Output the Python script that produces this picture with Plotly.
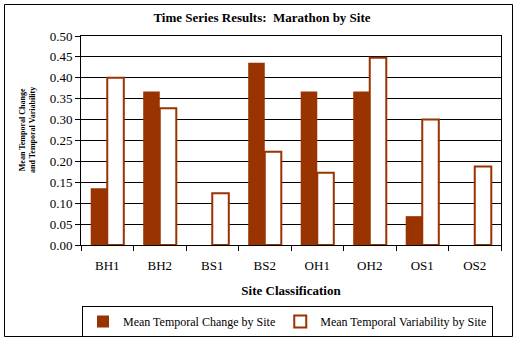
import plotly.graph_objects as go

sites = ["BH1", "BH2", "BS1", "BS2", "OH1", "OH2", "OS1", "OS2"]
mean_change = [0.136, 0.367, 0.0, 0.436, 0.367, 0.367, 0.069, 0.0]
mean_variability = [0.400, 0.327, 0.124, 0.223, 0.173, 0.448, 0.300, 0.188]
y_ticks = [0.0, 0.05, 0.10, 0.15, 0.20, 0.25, 0.30, 0.35, 0.40, 0.45, 0.50]

BROWN = "#993300"
FONT = "Liberation Serif"

fig = go.Figure()
fig.add_trace(go.Bar(
    x=sites, y=mean_change, name="Mean Temporal Change by Site",
    marker=dict(color=BROWN, line=dict(width=0)),
))
fig.add_trace(go.Bar(
    x=sites, y=mean_variability, name="Mean Temporal Variability by Site",
    marker=dict(color="white", line=dict(color=BROWN, width=2)),
))

L, R, T, B = 81, 21, 36, 97
W, H = 522, 342
pw, ph = W - L - R, H - T - B

def px(x):
    return (x - L) / pw

def py(y):
    return (H - B - y) / ph

fig.update_layout(
    width=W, height=H,
    margin=dict(l=L, r=R, t=T, b=B, autoexpand=False),
    paper_bgcolor="white", plot_bgcolor="white",
    font=dict(family=FONT, size=13, color="black"),
    barmode="group", bargap=0.37, bargroupgap=0,
    title=dict(text="<b>Time Series Results:  Marathon by Site</b>",
               x=262 / W, xanchor="center", xref="container",
               y=1 - 17 / H, yanchor="middle", yref="container",
               font=dict(size=13, family=FONT)),
    xaxis=dict(
        automargin=False,
        showline=True, linecolor="black", linewidth=1, mirror=True,
        ticks="outside", ticklen=5, tickcolor="black", tickson="boundaries",
        ticklabelstandoff=8,
        showgrid=False,
        title=dict(text="<b>Site Classification</b>", font=dict(size=13), standoff=14),
    ),
    yaxis=dict(
        automargin=False,
        range=[0, 0.5], tickvals=y_ticks, tickformat=".2f",
        showline=True, linecolor="black", linewidth=1, mirror=True,
        ticks="outside", ticklen=5, tickcolor="black",
        showgrid=True, gridcolor="black", gridwidth=1,
        zeroline=False,
    ),
    showlegend=True,
    legend=dict(
        orientation="h", x=px(82), y=py(321.5), xanchor="left", yanchor="middle",
        bordercolor="black", borderwidth=1, bgcolor="white",
        font=dict(size=12, family=FONT),
        traceorder="normal", tracegroupgap=0,
    ),
    annotations=[dict(
        text="<b>Mean Temporal Change<br>and Temporal Variability</b>",
        textangle=-90, xref="paper", yref="paper",
        x=px(27), y=py(130), xanchor="center", yanchor="middle",
        showarrow=False, font=dict(size=8, family=FONT),
    )],
    shapes=[dict(
        type="rect", xref="paper", yref="paper",
        x0=px(4.5), x1=px(512.5), y0=py(336.5), y1=py(4.5),
        line=dict(color="black", width=1), fillcolor="rgba(0,0,0,0)", layer="below",
    )],
)

fig.write_html("out.html")
